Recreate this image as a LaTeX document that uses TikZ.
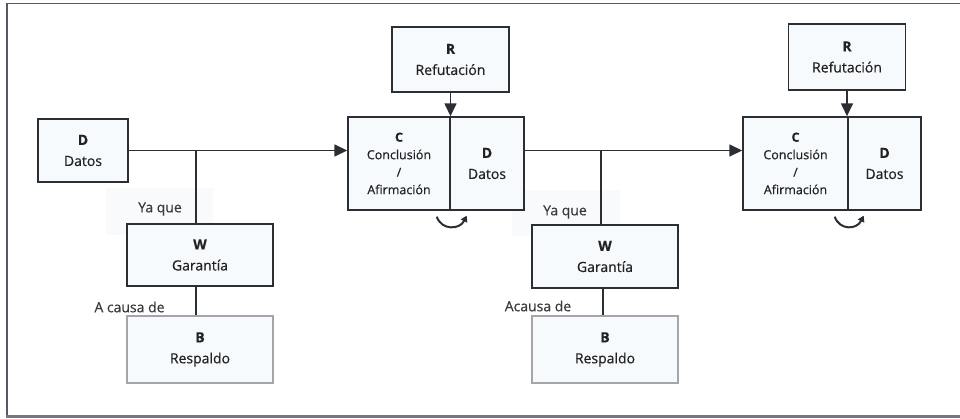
\documentclass[tikz,border=0pt]{standalone}
\usepackage{fontspec}
\setmainfont{Open Sans}[FakeBold=0.5]
\usetikzlibrary{arrows.meta,calc}
\definecolor{boxfill}{HTML}{F7FAFD}
\definecolor{boxline}{HTML}{2B2F33}
\definecolor{backline}{HTML}{A3A5A8}
\definecolor{textcol}{HTML}{222222}
\definecolor{labelcol}{HTML}{3A3A3A}
\definecolor{framecol}{HTML}{555A62}
\definecolor{framebot}{HTML}{737882}
\definecolor{labelbg}{HTML}{F8FAFC}
\begin{document}
\begin{tikzpicture}[x=1pt,y=-1pt,
  box/.style={draw=boxline, line width=1.4pt, fill=boxfill, inner sep=0pt, align=center,
    font=\fontsize{14}{21}\selectfont, text=textcol},
  cbox/.style={box, font=\fontsize{12.5}{17.5}\selectfont},
  bbox/.style={box, draw=backline, line width=1.8pt},
  conn/.style={draw=boxline, line width=1.5pt},
  arr/.style={conn, -{Triangle[length=13pt,width=12pt]}},
  lab/.style={font=\fontsize{14}{17}\selectfont, text=labelcol, inner sep=0pt},
  turn/.style={draw=boxline, line width=2pt, -{Triangle[length=6pt,width=7pt]}}]
\useasboundingbox (0,0) rectangle (960,419);
% frame
\draw[framecol, line width=1.5pt] (961,3.5) -- (7,3.5) -- (7,416);
\draw[framebot, line width=3pt] (6,416.5) -- (961,416.5);
% label backgrounds
\fill[labelbg] (106,188) rectangle (213,235);
\fill[labelbg] (512,190) rectangle (620,236);
% first argument
\node[box, minimum width=90pt, minimum height=63pt] (D1) at (83,150.5) {\textbf{D}\\Datos};
\node[box, minimum width=117pt, minimum height=65pt] (R1) at (450.5,59.5) {\textbf{R}\\Refutación};
\node[cbox, minimum width=102pt, minimum height=93pt] (C1) at (399,163.5) {\textbf{C}\\Conclusión\\/\\Afirmación};
\node[box, minimum width=74pt, minimum height=93pt] (E1) at (487,163.5) {\textbf{D}\\Datos};
\node[box, minimum width=146pt, minimum height=62pt] (W1) at (200,255) {\textbf{W}\\Garantía};
\node[bbox, minimum width=146pt, minimum height=67pt] (B1) at (200,349.5) {\textbf{B}\\Respaldo};
\node[lab] (Y1) at (160,209) {Ya que};
\node[lab] (A1) at (129.5,307) {A causa de};
% second argument
\node[box, minimum width=117pt, minimum height=66pt] (R2) at (847,57) {\textbf{R}\\Refutación};
\node[cbox, minimum width=105pt, minimum height=93pt] (C2) at (795.5,163.5) {\textbf{C}\\Conclusión\\/\\Afirmación};
\node[box, minimum width=73pt, minimum height=93pt] (E2) at (884.5,163.5) {\textbf{D}\\Datos};
\node[box, minimum width=146pt, minimum height=63pt] (W2) at (605,256.5) {\textbf{W}\\Garantía};
\node[bbox, minimum width=146pt, minimum height=67pt] (B2) at (605,349.5) {\textbf{B}\\Respaldo};
\node[lab] (Y2) at (565,212) {Ya que};
\node[lab] (A2) at (538,306) {Acausa de};
% connectors
\draw[arr] (D1.east) -- (D1.east -| C1.west);
\draw[conn] ($(W1.north)+(-4,0)$) -- ($(W1.north |- D1.east)+(-4,0)$);
\draw[conn] ($(W1.south)+(-4,0)$) -- ($(B1.north)+(-4,0)$);
\draw[arr] (R1.south) -- (R1.south |- C1.north);
\draw[arr] (E1.east |- D1.east) -- (C2.west |- D1.east);
\draw[conn] ($(W2.north)+(-4,0)$) -- ($(W2.north |- D1.east)+(-4,0)$);
\draw[conn] ($(W2.south)+(-2,0)$) -- ($(B2.north)+(-2,0)$);
\draw[arr] (R2.south) -- (R2.south |- C2.north);
% turn arrows
\coordinate (t1a) at ($(C1.south east)+(-14,6)$);
\coordinate (t1b) at ($(C1.south east)+(16,5)$);
\draw[turn] (t1a) .. controls ($(t1a)+(5,14)$) and ($(t1b)+(-7,14)$) .. (t1b);
\coordinate (t2a) at ($(C2.south east)+(-14,6)$);
\coordinate (t2b) at ($(C2.south east)+(15,5)$);
\draw[turn] (t2a) .. controls ($(t2a)+(5,14)$) and ($(t2b)+(-7,14)$) .. (t2b);
\end{tikzpicture}
\end{document}
